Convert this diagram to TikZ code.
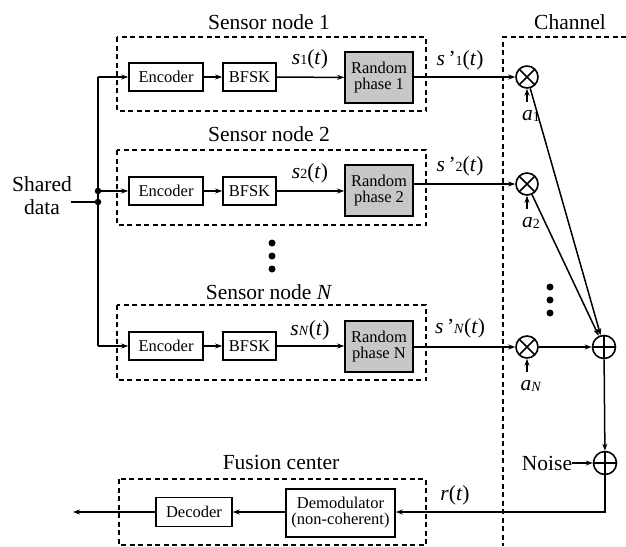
\documentclass[tikz,border=0pt]{standalone}
\usepackage{fontspec}
\setmainfont{Liberation Serif}
\newfontfamily\tms{Liberation Serif}
\usetikzlibrary{arrows.meta}
\newcommand{\bigf}{\tms\fontsize{21.5}{23}\selectfont}
\newcommand{\smallf}{\tms\fontsize{16.5}{17}\selectfont}
\newcommand{\sbs}[1]{\raisebox{-0.5pt}{\fontsize{14}{14}\selectfont #1}}
\newcommand{\sig}[1]{\textit{s}\sbs{#1}(\textit{t})}
\newcommand{\sigp}[1]{\textit{s}\,’\sbs{#1}(\textit{t})}
\begin{document}
\begin{tikzpicture}[x=1pt,y=-1pt,
  blk/.style={draw,line width=1.6pt,inner sep=0pt,font=\smallf,align=center},
  rph/.style={blk,fill=black!22,minimum width=68pt,minimum height=51pt},
  grp/.style={draw,line width=1.4pt,dash pattern=on 5pt off 3.5pt},
  conn/.style={line width=1.5pt,-{Stealth[length=7pt,width=5pt]}},
  wire/.style={line width=1.5pt},
  ttl/.style={font=\bigf,inner sep=0pt},
  lbl/.style={font=\bigf,inner sep=0pt},
  mult/.style={circle,draw,line width=1.6pt,minimum size=22pt,inner sep=0pt,
    path picture={\draw[line width=1.5pt] (path picture bounding box.north west) -- (path picture bounding box.south east)
      (path picture bounding box.north east) -- (path picture bounding box.south west);}},
  addr/.style={circle,draw,line width=1.6pt,minimum size=23pt,inner sep=0pt,
    path picture={\draw[line width=1.5pt] (path picture bounding box.north) -- (path picture bounding box.south)
      (path picture bounding box.west) -- (path picture bounding box.east);}},
  dot/.style={circle,fill,inner sep=0pt,minimum size=7pt}
]
\useasboundingbox (0,0) rectangle (626,546);

% group boxes
\draw[grp] (117,37) rectangle (426,111);
\draw[grp] (117,150) rectangle (426,225);
\draw[grp] (117,305) rectangle (426,380);
\draw[grp] (119,479) rectangle (426,545);
\draw[grp] (626,37) -- (503,37) -- (503,546);

% titles
\node[ttl] (t1) at (269,22) {Sensor node 1};
\node[ttl] (t2) at (269,134) {Sensor node 2};
\node[ttl] (tn) at (269,292) {Sensor node \textit{N}};
\node[ttl] (tc) at (570,22) {Channel};
\node[ttl] (tf) at (281,462) {Fusion center};

% sensor 1
\node[blk,minimum width=74pt,minimum height=28pt] (e1) at (166,77) {Encoder};
\node[blk,minimum width=53pt,minimum height=28pt] (b1) at (249.5,77) {BFSK};
\node[rph] (r1) at (379,77.5) {Random\\[-1pt]phase 1};
\node[lbl] (s1) at (310,59) {\sig{1}};
\node[lbl] (sp1) at (460,60) {\sigp{1}};
\node[mult] (m1) at (527,77) {};
\node[lbl] (a1) at (531,116) {\textit{a}\sbs{1}};

% sensor 2
\node[blk,minimum width=74pt,minimum height=28pt] (e2) at (166,191) {Encoder};
\node[blk,minimum width=53pt,minimum height=28pt] (b2) at (249.5,191) {BFSK};
\node[rph] (r2) at (379,190.5) {Random\\[-1pt]phase 2};
\node[lbl] (s2) at (310,173) {\sig{2}};
\node[lbl] (sp2) at (460,166) {\sigp{2}};
\node[mult] (m2) at (527,184) {};
\node[lbl] (a2) at (531,223) {\textit{a}\sbs{2}};

% sensor N
\node[blk,minimum width=74pt,minimum height=28pt] (en) at (166,346) {Encoder};
\node[blk,minimum width=53pt,minimum height=28pt] (bn) at (249.5,346) {BFSK};
\node[rph] (rn) at (379,346.5) {Random\\[-1pt]phase N};
\node[lbl] (sn) at (310,330) {\textit{s}\sbs{\textit{N}}(\textit{t})};
\node[lbl] (spn) at (460,328) {\textit{s}\,’\sbs{\textit{N}}(\textit{t})};
\node[mult] (mn) at (527,347) {};
\node[lbl] (an) at (531,386) {\textit{a}\sbs{\textit{N}}};

% dots
\node[dot] (d1) at (272,243) {};
\node[dot] (d2) at (272,256) {};
\node[dot] (d3) at (272,269) {};
\node[dot] (c1) at (550,287) {};
\node[dot] (c2) at (550,300) {};
\node[dot] (c3) at (550,313) {};

% shared data
\node[lbl,align=center] (sd) at (42,196) {Shared\\data};
\coordinate (sdin) at (71,202);
\coordinate (j1) at (98,77);
\coordinate (j2) at (98,191);
\coordinate (j3) at (98,202);
\coordinate (jn) at (98,346);
\draw[wire] (sdin) -- (j3);
\draw[wire] (j1) -- (jn);
\node[dot,minimum size=6.5pt] (jd2) at (j2) {};
\node[dot,minimum size=6.5pt] (jd3) at (j3) {};
\draw[conn] (j1) -- (e1);
\draw[conn] (j2) -- (e2);
\draw[conn] (jn) -- (en);

% chains
\draw[conn] (e1) -- (b1);
\draw[conn] (b1) -- (r1);
\draw[conn] (r1.east |- m1) -- (m1);
\draw[conn] (e2) -- (b2);
\draw[conn] (b2) -- (r2.west |- b2);
\draw[conn] (r2.east |- m2) -- (m2);
\draw[conn] (en) -- (bn);
\draw[conn] (bn) -- (rn.west |- bn);
\draw[conn] (rn.east |- mn) -- (mn);

% gains
\coordinate (g1) at (527,102);
\coordinate (g2) at (527,209);
\coordinate (gn) at (527,372);
\draw[conn] (g1) -- (m1);
\draw[conn] (g2) -- (m2);
\draw[conn] (gn) -- (mn);

% adder
\node[addr] (ad) at (604,347) {};
\draw[conn] (m1) -- (ad);
\draw[conn] (m2) -- (ad);
\draw[conn] (mn) -- (ad);

% noise
\node[addr] (na) at (605,463) {};
\node[lbl] (noise) at (547,463) {Noise};
\draw[conn] (noise) -- (na);
\draw[conn] (ad) -- (na);

% fusion
\node[blk,minimum width=109pt,minimum height=48pt] (dm) at (340.5,513) {Demodulator\\[-1pt](non-coherent)};
\node[blk,minimum width=76pt,minimum height=29pt] (dc) at (194,512) {Decoder};
\node[lbl] (rt) at (455,495) {\textit{r}(\textit{t})};
\coordinate (cr) at (605,512);
\coordinate (out) at (73,512);
\draw[conn] (na) -- (cr) -- (dm.east |- cr);
\draw[conn] (dm.west |- dc) -- (dc);
\draw[conn] (dc) -- (out);
\end{tikzpicture}
\end{document}
